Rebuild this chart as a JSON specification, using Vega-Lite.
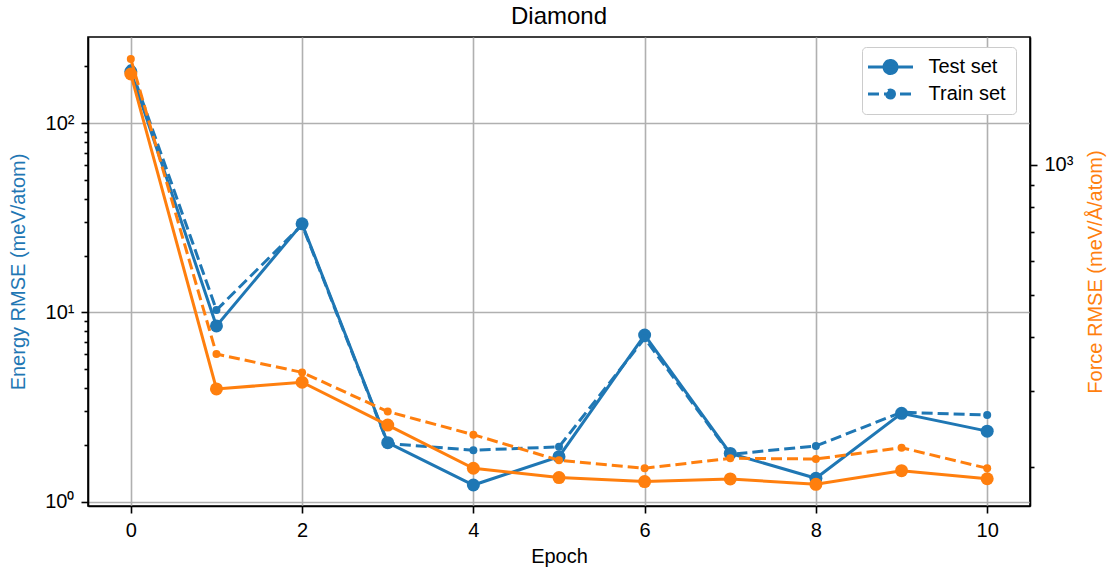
{
  "$schema": "https://vega.github.io/schema/vega-lite/v6.json",
  "width": 942,
  "height": 469,
  "autosize": "none",
  "padding": {"left": 88, "top": 37, "right": 83, "bottom": 63},
  "background": "white",
  "title": {
    "text": "Diamond",
    "font": "Liberation Sans",
    "fontSize": 24,
    "fontWeight": "normal",
    "color": "#000000",
    "anchor": "middle",
    "frame": "group",
    "offset": 8
  },
  "data": {
    "values": [
      {"epoch": 0, "set": "Test set", "energy": 187.5, "force": 1623},
      {"epoch": 1, "set": "Test set", "energy": 8.49, "force": 303},
      {"epoch": 2, "set": "Test set", "energy": 29.4, "force": 314},
      {"epoch": 3, "set": "Test set", "energy": 2.05, "force": 250},
      {"epoch": 4, "set": "Test set", "energy": 1.225, "force": 198.6},
      {"epoch": 5, "set": "Test set", "energy": 1.73, "force": 189},
      {"epoch": 6, "set": "Test set", "energy": 7.6, "force": 185},
      {"epoch": 7, "set": "Test set", "energy": 1.8, "force": 187.6},
      {"epoch": 8, "set": "Test set", "energy": 1.33, "force": 182.3},
      {"epoch": 9, "set": "Test set", "energy": 2.93, "force": 196},
      {"epoch": 10, "set": "Test set", "energy": 2.36, "force": 187.8},
      {"epoch": 0, "set": "Train set", "energy": 195, "force": 1758},
      {"epoch": 1, "set": "Train set", "energy": 10.3, "force": 365},
      {"epoch": 2, "set": "Train set", "energy": 29.0, "force": 331},
      {"epoch": 3, "set": "Train set", "energy": 2.03, "force": 268.6},
      {"epoch": 4, "set": "Train set", "energy": 1.87, "force": 237.5},
      {"epoch": 5, "set": "Train set", "energy": 1.95, "force": 207.2},
      {"epoch": 6, "set": "Train set", "energy": 7.3, "force": 198.6},
      {"epoch": 7, "set": "Train set", "energy": 1.78, "force": 209.4},
      {"epoch": 8, "set": "Train set", "energy": 1.97, "force": 208.6},
      {"epoch": 9, "set": "Train set", "energy": 2.97, "force": 221.6},
      {"epoch": 10, "set": "Train set", "energy": 2.87, "force": 198.6}
    ]
  },
  "config": {
    "view": {"stroke": "#000000", "strokeWidth": 1.6},
    "axis": {
      "labelFont": "Liberation Sans",
      "labelFontSize": 20,
      "labelColor": "#000000",
      "labelPadding": 7,
      "titleFont": "Liberation Sans",
      "titleFontSize": 20,
      "titleFontWeight": "normal",
      "titleColor": "#000000",
      "tickColor": "#000000",
      "tickWidth": 1.6,
      "tickSize": 7,
      "domainColor": "#000000",
      "domainWidth": 1.6,
      "gridColor": "#b0b0b0",
      "gridWidth": 1.6,
      "labelFlush": false,
      "labelOverlap": false
    },
    "legend": {
      "orient": "none",
      "legendX": 774,
      "legendY": 10,
      "fillColor": "#ffffff",
      "strokeColor": "#cccccc",
      "cornerRadius": 4,
      "padding": 10,
      "labelFont": "Liberation Sans",
      "labelFontSize": 20,
      "labelColor": "#000000",
      "symbolSize": 64,
      "symbolStrokeWidth": 3,
      "symbolOpacity": 1,
      "symbolOffset": 8.5,
      "rowPadding": 4,
      "labelOffset": 28
    }
  },
  "layer": [
    {
      "encoding": {
        "x": {
          "field": "epoch",
          "type": "quantitative",
          "scale": {"domain": [-0.5, 10.5], "nice": false, "zero": false},
          "axis": {"values": [0, 2, 4, 6, 8, 10], "format": "d", "title": "Epoch", "titlePadding": 6, "grid": true}
        },
        "y": {
          "field": "energy",
          "type": "quantitative",
          "scale": {"type": "log", "domain": [0.949, 285.6], "nice": false},
          "axis": {
            "orient": "left",
            "title": "Energy RMSE (meV/atom)",
            "titleColor": "#1f77b4",
            "titlePadding": 16,
            "values": [1, 2, 3, 4, 5, 6, 7, 8, 9, 10, 20, 30, 40, 50, 60, 70, 80, 90, 100, 200],
            "labelExpr": "datum.value == 1 ? '10⁰' : datum.value == 10 ? '10¹' : datum.value == 100 ? '10²' : ''",
            "tickSize": {"condition": {"test": "datum.value == 1 || datum.value == 10 || datum.value == 100", "value": 7}, "value": 4},
            "gridOpacity": {"condition": {"test": "datum.value == 1 || datum.value == 10 || datum.value == 100", "value": 1}, "value": 0}
          }
        }
      },
      "layer": [
        {
          "transform": [{"filter": "datum.set === 'Test set'"}],
          "mark": {"type": "line", "color": "#1f77b4", "strokeWidth": 3}
        },
        {
          "transform": [{"filter": "datum.set === 'Test set'"}],
          "mark": {"type": "point", "filled": true, "shape": "circle", "color": "#1f77b4", "opacity": 1, "size": 169}
        },
        {
          "transform": [{"filter": "datum.set === 'Train set'"}],
          "mark": {"type": "line", "color": "#1f77b4", "strokeWidth": 3, "strokeDash": [11, 5]}
        },
        {
          "transform": [{"filter": "datum.set === 'Train set'"}],
          "mark": {"type": "point", "filled": true, "shape": "circle", "color": "#1f77b4", "opacity": 1, "size": 64}
        },
        {
          "transform": [{"filter": "datum.epoch < 0"}],
          "mark": {"type": "point", "filled": false, "color": "#1f77b4", "fill": "#1f77b4", "stroke": "#1f77b4", "strokeWidth": 3, "opacity": 1},
          "encoding": {
            "shape": {
              "field": "set",
              "type": "nominal",
              "scale": {
                "domain": ["Test set", "Train set"],
                "range": [
                  "M-5.625,0H5.625M1.625,0A1.625,1.625,0,1,1,-1.625,0A1.625,1.625,0,1,1,1.625,0Z",
                  "M-5.625,0H5.625M1,0A1,1,0,1,1,-1,0A1,1,0,1,1,1,0Z"
                ]
              },
              "legend": {"title": null}
            },
            "strokeDash": {
              "field": "set",
              "type": "nominal",
              "scale": {"domain": ["Test set", "Train set"], "range": [[1, 0], [11, 5]]},
              "legend": {"title": null}
            }
          }
        }
      ]
    },
    {
      "encoding": {
        "x": {"field": "epoch", "type": "quantitative"},
        "y": {
          "field": "force",
          "type": "quantitative",
          "scale": {"type": "log", "domain": [162.4, 1977], "nice": false},
          "axis": {
            "orient": "right",
            "title": "Force RMSE (meV/Å/atom)",
            "titleColor": "#ff7f0e",
            "titleAngle": 270,
            "titleBaseline": "top",
            "titlePadding": 13,
            "values": [200, 300, 400, 500, 600, 700, 800, 900, 1000],
            "labelExpr": "datum.value == 1000 ? '10³' : ''",
            "tickSize": {"condition": {"test": "datum.value == 1000", "value": 7}, "value": 4},
            "gridOpacity": {"condition": {"test": "datum.value == 1000", "value": 1}, "value": 0}
          }
        }
      },
      "layer": [
        {
          "transform": [{"filter": "datum.set === 'Test set'"}],
          "mark": {"type": "line", "color": "#ff7f0e", "strokeWidth": 3}
        },
        {
          "transform": [{"filter": "datum.set === 'Test set'"}],
          "mark": {"type": "point", "filled": true, "shape": "circle", "color": "#ff7f0e", "opacity": 1, "size": 169}
        },
        {
          "transform": [{"filter": "datum.set === 'Train set'"}],
          "mark": {"type": "line", "color": "#ff7f0e", "strokeWidth": 3, "strokeDash": [11, 5]}
        },
        {
          "transform": [{"filter": "datum.set === 'Train set'"}],
          "mark": {"type": "point", "filled": true, "shape": "circle", "color": "#ff7f0e", "opacity": 1, "size": 64}
        }
      ]
    }
  ],
  "resolve": {"scale": {"y": "independent"}}
}
